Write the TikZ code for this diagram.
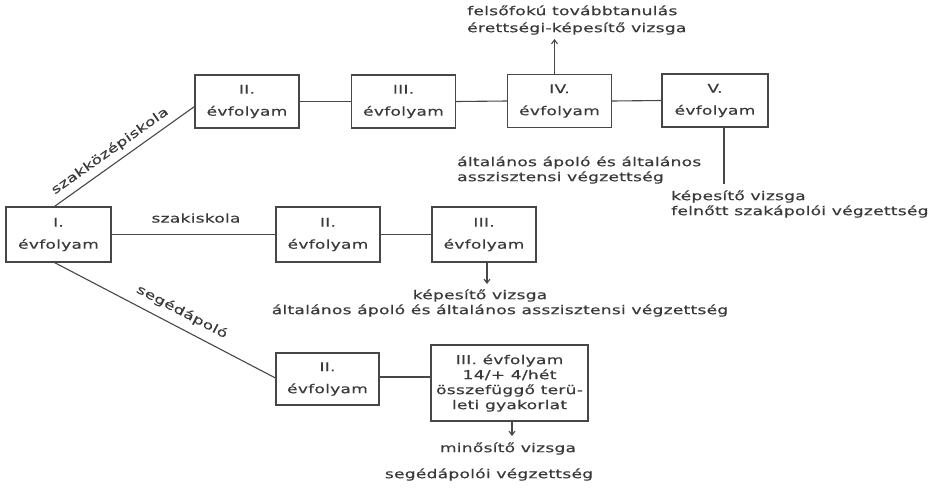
\documentclass[tikz,border=0pt]{standalone}
\usepackage{fontspec}
\usetikzlibrary{arrows.meta,calc}
\newfontfamily\tw[FakeStretch=1.4,FakeBold=0.4,LetterSpace=2]{DejaVu Sans}
\definecolor{linec}{HTML}{474747}
\definecolor{txtc}{HTML}{3A3A3A}
\newcommand\boxfont{\tw\fontsize{12.2}{22}\selectfont}
\newcommand\lblfont{\tw\fontsize{12.2}{15}\selectfont}
\tikzset{
  box/.style={draw=linec, line width=1.1pt, minimum width=104pt, minimum height=54pt,
    inner sep=0pt, align=center, font=\boxfont, text=txtc},
  lbl/.style={font=\lblfont, text=txtc, inner sep=0pt},
  conn/.style={draw=linec, line width=1.1pt},
  arr/.style={conn, -{Straight Barb[length=4pt,width=6pt]}}
}
\begin{document}
\begin{tikzpicture}[x=1pt,y=-1pt]
\useasboundingbox[fill=white] (0,0) rectangle (935,488);
% boxes
\node[box, minimum width=105pt, minimum height=55pt] (I) at (58.5,234.5) {I.\\évfolyam};
\node[box, minimum height=53pt] (tII) at (247,101.5) {II.\\évfolyam};
\node[box, minimum height=53pt] (tIII) at (403.5,101.5) {III.\\évfolyam};
\node[box, minimum height=53pt] (tIV) at (559.5,101) {IV.\\évfolyam};
\node[box, minimum height=53pt, minimum width=106pt] (tV) at (715,100.5) {V.\\évfolyam};
\node[box, minimum height=55pt] (mII) at (328,234.5) {II.\\évfolyam};
\node[box, minimum height=55pt] (mIII) at (484,234.5) {III.\\évfolyam};
\node[box, minimum height=52pt, minimum width=103pt] (bII) at (327.5,379) {II.\\évfolyam};
\node[box, minimum height=76pt, minimum width=157pt, font=\lblfont] (bIII) at (509.5,383)
  {III. évfolyam\\14/+ 4/hét\\összefüggő terü-\\leti gyakorlat};
% connectors
\draw[conn] (tII.east) -- (tIII.west);
\draw[conn] (tIII.east) -- (tIV.west);
\draw[conn] (tIV.east) -- (tV.west);
\draw[conn] (I.east) -- (mII.west);
\draw[conn] (mII.east) -- (mIII.west);
\coordinate (bj) at ($(bII.east)+(0,-2)$);
\draw[conn] (bj) -- (bj -| bIII.west);
\draw[conn] ($(I.north)+(-4,0)$) -- ($(tII.west)+(0,5)$);
\draw[conn] ($(I.south)+(-4,0)$) -- ($(bII.west)+(0,-1)$);
% labels on lines
\node[lbl, rotate=35.4] (szk) at (110,151) {szakközépiskola};
\node[lbl] (szi) at (196,218) {szakiskola};
\node[lbl, rotate=-27.6] (seg) at (182,312) {segédápoló};
% arrows and outcome texts
\coordinate (upEnd) at (554.5,39);
\draw[arr] (tIV.north -| upEnd) -- (upEnd);
\node[lbl, anchor=mid west] (f1) at (467,13) {felsőfokú továbbtanulás};
\node[lbl, anchor=mid west] (f2) at (467,30) {érettségi-képesítő vizsga};
\node[lbl, anchor=mid west] (g1) at (457,164) {általános ápoló és általános};
\node[lbl, anchor=mid west] (g2) at (457,179) {asszisztensi végzettség};
\coordinate (vEnd) at (724,184);
\draw[conn] (tV.south -| vEnd) -- (vEnd);
\node[lbl, anchor=mid west] (k1) at (671,198) {képesítő vizsga};
\node[lbl, anchor=mid west] (k2) at (671,213) {felnőtt szakápolói végzettség};
\coordinate (mEnd) at (487,284);
\draw[arr] (mIII.south -| mEnd) -- (mEnd);
\node[lbl, anchor=mid] (m1) at (480,297) {képesítő vizsga};
\node[lbl, anchor=mid] (m2) at (500,312) {általános ápoló és általános asszisztensi végzettség};
\coordinate (bEnd) at (512,436);
\draw[arr] (bIII.south -| bEnd) -- (bEnd);
\node[lbl, anchor=mid] (s1) at (508,450) {minősítő vizsga};
\node[lbl, anchor=mid] (s2) at (489,476) {segédápolói végzettség};
\end{tikzpicture}
\end{document}
